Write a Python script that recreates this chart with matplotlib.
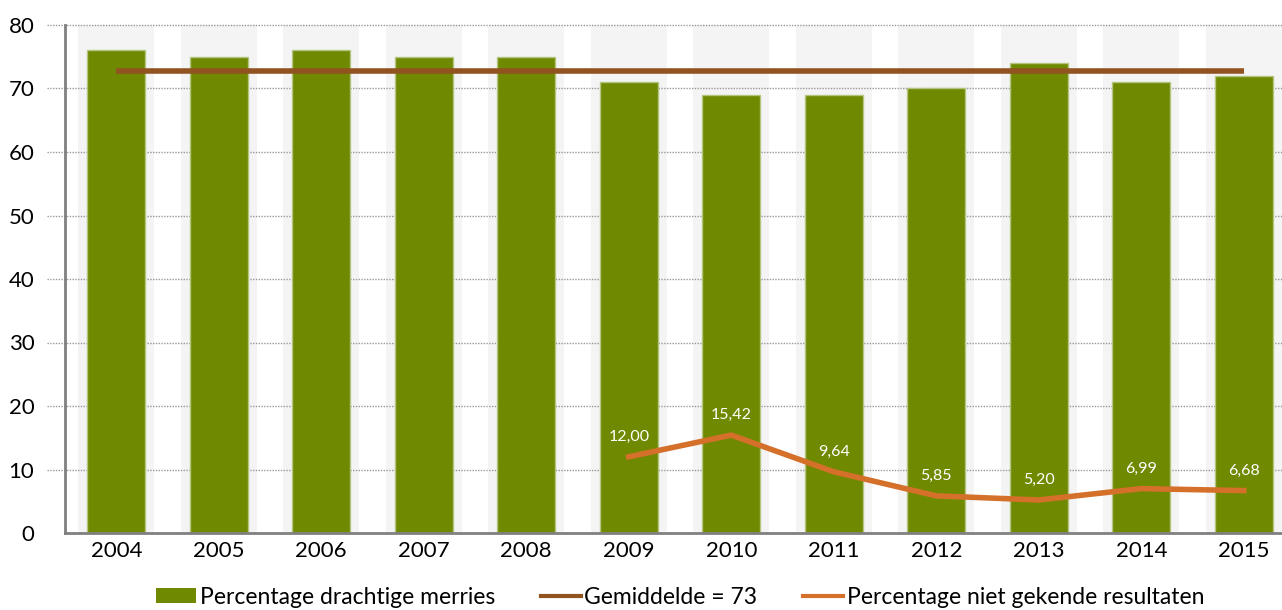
import matplotlib
matplotlib.use("Agg")
import matplotlib.pyplot as plt
import matplotlib.transforms as mtransforms
from matplotlib.patches import Patch
from matplotlib.lines import Line2D
import numpy as np

years = ["2004", "2005", "2006", "2007", "2008", "2009", "2010", "2011", "2012", "2013", "2014", "2015"]
drachtig = [76, 75, 76, 75, 75, 71, 69, 69, 70, 74, 71, 72]
gemiddelde = 72.75
gemiddelde_label = "Gemiddelde = 73"
onbekend_years = ["2009", "2010", "2011", "2012", "2013", "2014", "2015"]
onbekend = [12.00, 15.42, 9.64, 5.85, 5.20, 6.99, 6.68]
yticks = [0, 10, 20, 30, 40, 50, 60, 70, 80]

plt.rcParams['font.family'] = ['Lato', 'DejaVu Sans']

W, H = 1282, 610
fig = plt.figure(figsize=(W / 100, H / 100), dpi=100)
ax = fig.add_axes([65 / W, (H - 533) / H, (W - 65) / W, (533 - 25) / H])

x = np.arange(len(years))
# background bands
ax.bar(x, [80] * len(years), width=0.74, color="#f4f4f4", zorder=0)
ax.bar(x, drachtig, width=0.57, color="#6f8a00", edgecolor="#b2c680", linewidth=1, zorder=2)

ax.plot([x[0], x[-1]], [gemiddelde, gemiddelde], color="#91531f", linewidth=4, solid_capstyle="butt", zorder=3)

xo = [years.index(y) for y in onbekend_years]
ax.plot(xo, onbekend, color="#d4702a", linewidth=4, zorder=4)
for xi, v in zip(xo, onbekend):
    ax.annotate(f"{v:.2f}".replace(".", ","), (xi, v), xytext=(0, 20),
                textcoords="offset pixels", ha="center", va="center", color="white", fontsize=11.5, zorder=5)

ax.set_xlim(-0.5, -0.5 + (W - 65) / 102.5)
ax.set_ylim(0, 80)
ax.set_xticks(x)
ax.set_xticklabels(years, fontsize=16)
ax.set_yticks(yticks)
ax.set_yticklabels([str(t) for t in yticks], fontsize=16)
ax.tick_params(axis="x", length=0, pad=6)
ax.tick_params(axis="y", length=0, pad=22)

trans = mtransforms.blended_transform_factory(ax.transAxes, ax.transData)
for t in yticks[1:]:
    ax.plot([-18 / (W - 65), 1], [t, t], transform=trans, color="#999999", linestyle=(0, (1, 1)),
            linewidth=1, clip_on=False, zorder=1)

for s in ["top", "right"]:
    ax.spines[s].set_visible(False)
for s in ["left", "bottom"]:
    ax.spines[s].set_color("#808080")
    ax.spines[s].set_linewidth(2)
    ax.spines[s].set_zorder(6)

handles = [Patch(facecolor="#6f8a00", edgecolor="none"),
           Line2D([0], [0], color="#91531f", linewidth=3),
           Line2D([0], [0], color="#d4702a", linewidth=3)]
labels = ["Percentage drachtige merries", gemiddelde_label, "Percentage niet gekende resultaten"]
fig.legend(handles, labels, loc="center", bbox_to_anchor=(680 / W, 1 - 597 / H), ncol=3, frameon=False,
           fontsize=16.5, handlelength=1.75, handletextpad=0.15, columnspacing=2.0, handleheight=0.6)

fig.savefig("out.png", dpi=100)
